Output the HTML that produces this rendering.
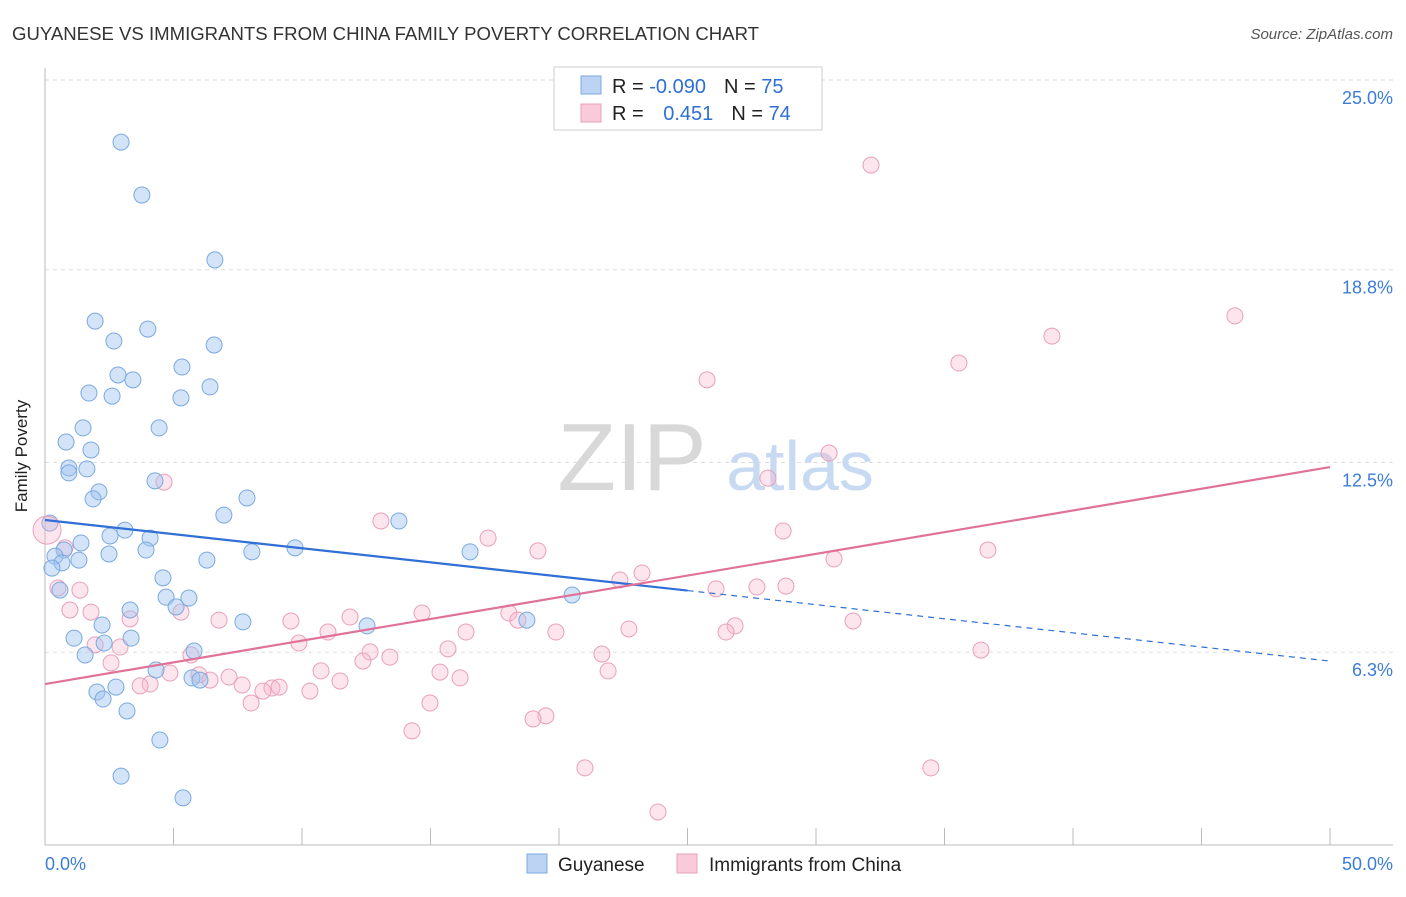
<!DOCTYPE html>
<html><head><meta charset="utf-8"><style>
body{margin:0;background:#fff;font-family:"Liberation Sans",sans-serif;}
svg text{font-family:"Liberation Sans",sans-serif;}
</style></head><body>
<svg id="c" width="1406" height="892">
<text x="12" y="40" font-size="18" fill="#333" textLength="747" lengthAdjust="spacingAndGlyphs">GUYANESE VS IMMIGRANTS FROM CHINA FAMILY POVERTY CORRELATION CHART</text>
<text x="1393" y="39" font-size="15" fill="#555" text-anchor="end" font-style="italic">Source: ZipAtlas.com</text>
<g id="grid"></g>
<text x="632" y="490" font-size="96" fill="#d8d8d8" font-family="Liberation Serif" text-anchor="middle">ZIP</text>
<text x="800" y="490" font-size="70" fill="#c7daf2" text-anchor="middle">atlas</text>
<g id="pts"></g>
<g id="trend"></g>
<text x="27" y="456" font-size="17" fill="#222" text-anchor="middle" transform="rotate(-90 27 456)">Family Poverty</text>
<text x="45" y="870" font-size="18" fill="#3b7dd8">0.0%</text>
<text x="1393" y="870" font-size="18" fill="#3b7dd8" text-anchor="end">50.0%</text>
<g>
<rect x="554" y="67" width="268" height="63" fill="#fff" stroke="#ccc"/>
<rect x="581" y="76" width="20" height="18" fill="#bcd3f3" stroke="#7aa9e0"/>
<rect x="581" y="104" width="20" height="18" fill="#f9cad9" stroke="#e8a0b8"/>
<text x="612" y="93" font-size="20" fill="#222">R = <tspan fill="#2f6fd6">-0.090</tspan><tspan dx="18">N = </tspan><tspan fill="#2f6fd6">75</tspan></text>
<text x="612" y="120" font-size="20" fill="#222">R = <tspan dx="14" fill="#2f6fd6">0.451</tspan><tspan dx="18">N = </tspan><tspan fill="#2f6fd6">74</tspan></text>
</g>
<g>
<rect x="527" y="854" width="20" height="19" fill="#bcd3f3" stroke="#7aa9e0"/>
<text x="558" y="871" font-size="19" fill="#222">Guyanese</text>
<rect x="677" y="854" width="20" height="19" fill="#f9cad9" stroke="#e8a0b8"/>
<text x="709" y="871" font-size="19" fill="#222">Immigrants from China</text>
</g>
</svg>
<script>
const yTicks=[25.0,18.8,12.5,6.3];
const yTickLabels=["25.0%","18.8%","12.5%","6.3%"];
const xTicks=[5,10,15,20,25,30,35,40,45,50];
const blueX=[2.96,3.77,6.61,1.95,4.0,2.68,6.58,5.33,2.84,3.42,6.42,1.71,2.61,5.29,1.48,4.44,0.82,1.79,0.93,1.63,0.93,4.28,2.1,1.87,7.86,6.96,13.77,0.19,3.11,2.53,4.09,1.4,0.74,3.93,9.73,16.54,8.05,2.49,0.39,6.3,1.32,0.66,0.27,4.59,0.58,20.51,4.71,5.6,5.1,3.31,18.75,7.7,12.53,2.22,1.13,3.35,2.3,5.8,1.56,4.32,5.72,6.03,2.76,2.02,2.26,3.19,4.47,2.96,5.37];
const blueY=[22.97,21.24,19.12,17.12,16.86,16.47,16.34,15.62,15.36,15.2,14.97,14.77,14.67,14.61,13.63,13.63,13.17,12.91,12.32,12.29,12.16,11.9,11.54,11.31,11.34,10.78,10.59,10.52,10.29,10.1,10.03,9.87,9.64,9.64,9.71,9.58,9.58,9.51,9.44,9.31,9.31,9.22,9.05,8.73,8.33,8.17,8.1,8.07,7.78,7.68,7.35,7.29,7.16,7.19,6.76,6.76,6.6,6.34,6.21,5.72,5.46,5.39,5.16,5.0,4.77,4.38,3.43,2.25,1.54];
const pinkX=[32.14,46.3,39.18,35.56,25.76,30.51,28.13,4.63,13.07,28.72,17.24,19.18,36.69,30.7,23.23,22.37,26.11,27.7,28.83,1.36,0.5,0.78,0.97,1.79,14.67,18.05,5.29,6.77,9.57,11.87,18.4,3.31,31.44,26.85,22.72,16.38,11.01,19.88,26.5,9.88,1.95,2.92,15.68,12.65,13.42,21.67,5.68,36.42,2.57,12.37,10.74,15.37,21.91,4.86,5.99,7.16,16.15,11.48,6.42,4.09,3.7,7.67,8.83,9.11,8.48,10.31,8.02,14.98,19.49,18.99,14.28,21.01,34.47,23.85];
const pinkY=[22.22,17.29,16.63,15.75,15.2,12.81,11.99,11.86,10.59,10.26,10.03,9.61,9.64,9.35,8.89,8.66,8.37,8.43,8.46,8.33,8.4,9.71,7.68,7.61,7.58,7.58,7.61,7.35,7.32,7.45,7.35,7.39,7.32,7.16,7.06,6.96,6.96,6.96,6.96,6.6,6.54,6.47,6.41,6.31,6.14,6.24,6.21,6.37,5.95,6.01,5.69,5.65,5.69,5.62,5.56,5.49,5.46,5.36,5.39,5.26,5.2,5.23,5.13,5.16,5.03,5.03,4.64,4.64,4.22,4.12,3.73,2.52,2.52,1.08];
const bigX=[0.08], bigY=[10.29];
const blueTrend=[10.62,6.01];
const pinkTrend=[5.26,12.35];
const X=v=>45+v*25.7, Y=v=>80+(25-v)*30.6;
const NS="http://www.w3.org/2000/svg";
function mk(t,a,p){const e=document.createElementNS(NS,t);for(const k in a)e.setAttribute(k,a[k]);p.appendChild(e);return e;}
const g=document.getElementById('grid');
yTicks.forEach((v,i)=>{
 const l=mk('line',{x1:45,x2:1393,y1:Y(v),y2:Y(v),stroke:'#ddd','stroke-dasharray':'4 4'},g);
 
 
 const t=mk('text',{x:1393,y:Y(v)+24,'font-size':18,fill:'#3b7dd8','text-anchor':'end'},g);
 t.textContent=yTickLabels[i];
 
 
});
let a=mk('line',{x1:45,x2:45,y1:68,y2:845,stroke:'#bbb'},g);


a=mk('line',{x1:45,x2:1393,y1:845,y2:845,stroke:'#bbb'},g);


xTicks.forEach(v=>{
 const t=mk('line',{x1:X(v),x2:X(v),y1:828,y2:845,stroke:'#bbb'},g);
 
 
});
const p=document.getElementById('pts');
pinkX.forEach((x,i)=>{
 const c=mk('circle',{cx:X(x),cy:Y(pinkY[i]),r:8,fill:'rgba(248,180,204,0.35)',stroke:'#e8a0b8','stroke-width':1},p);
 
 
});
blueX.forEach((x,i)=>{
 const c=mk('circle',{cx:X(x),cy:Y(blueY[i]),r:8,fill:'rgba(160,196,240,0.45)',stroke:'#7aa9e0','stroke-width':1},p);
 
 
});
bigX.forEach((x,i)=>{
 const c=mk('circle',{cx:X(x),cy:Y(bigY[i]),r:14,fill:'rgba(248,180,204,0.35)',stroke:'#e8a0b8','stroke-width':1},p);
 
 
});
const tr=document.getElementById('trend');
const bAt=x=>blueTrend[0]+(blueTrend[1]-blueTrend[0])*x/50;
let l=mk('line',{x1:X(0),y1:Y(bAt(0)),x2:X(25),y2:Y(bAt(25)),stroke:'#2f6fd6','stroke-width':2.2},tr);


l=mk('line',{x1:X(25),y1:Y(bAt(25)),x2:X(50),y2:Y(bAt(50)),stroke:'#2f6fd6','stroke-width':1.2,'stroke-dasharray':'6 5'},tr);


l=mk('line',{x1:X(0),y1:Y(pinkTrend[0]),x2:X(50),y2:Y(pinkTrend[1]),stroke:'#e0729a','stroke-width':2.2},tr);


</script>
</body></html>
